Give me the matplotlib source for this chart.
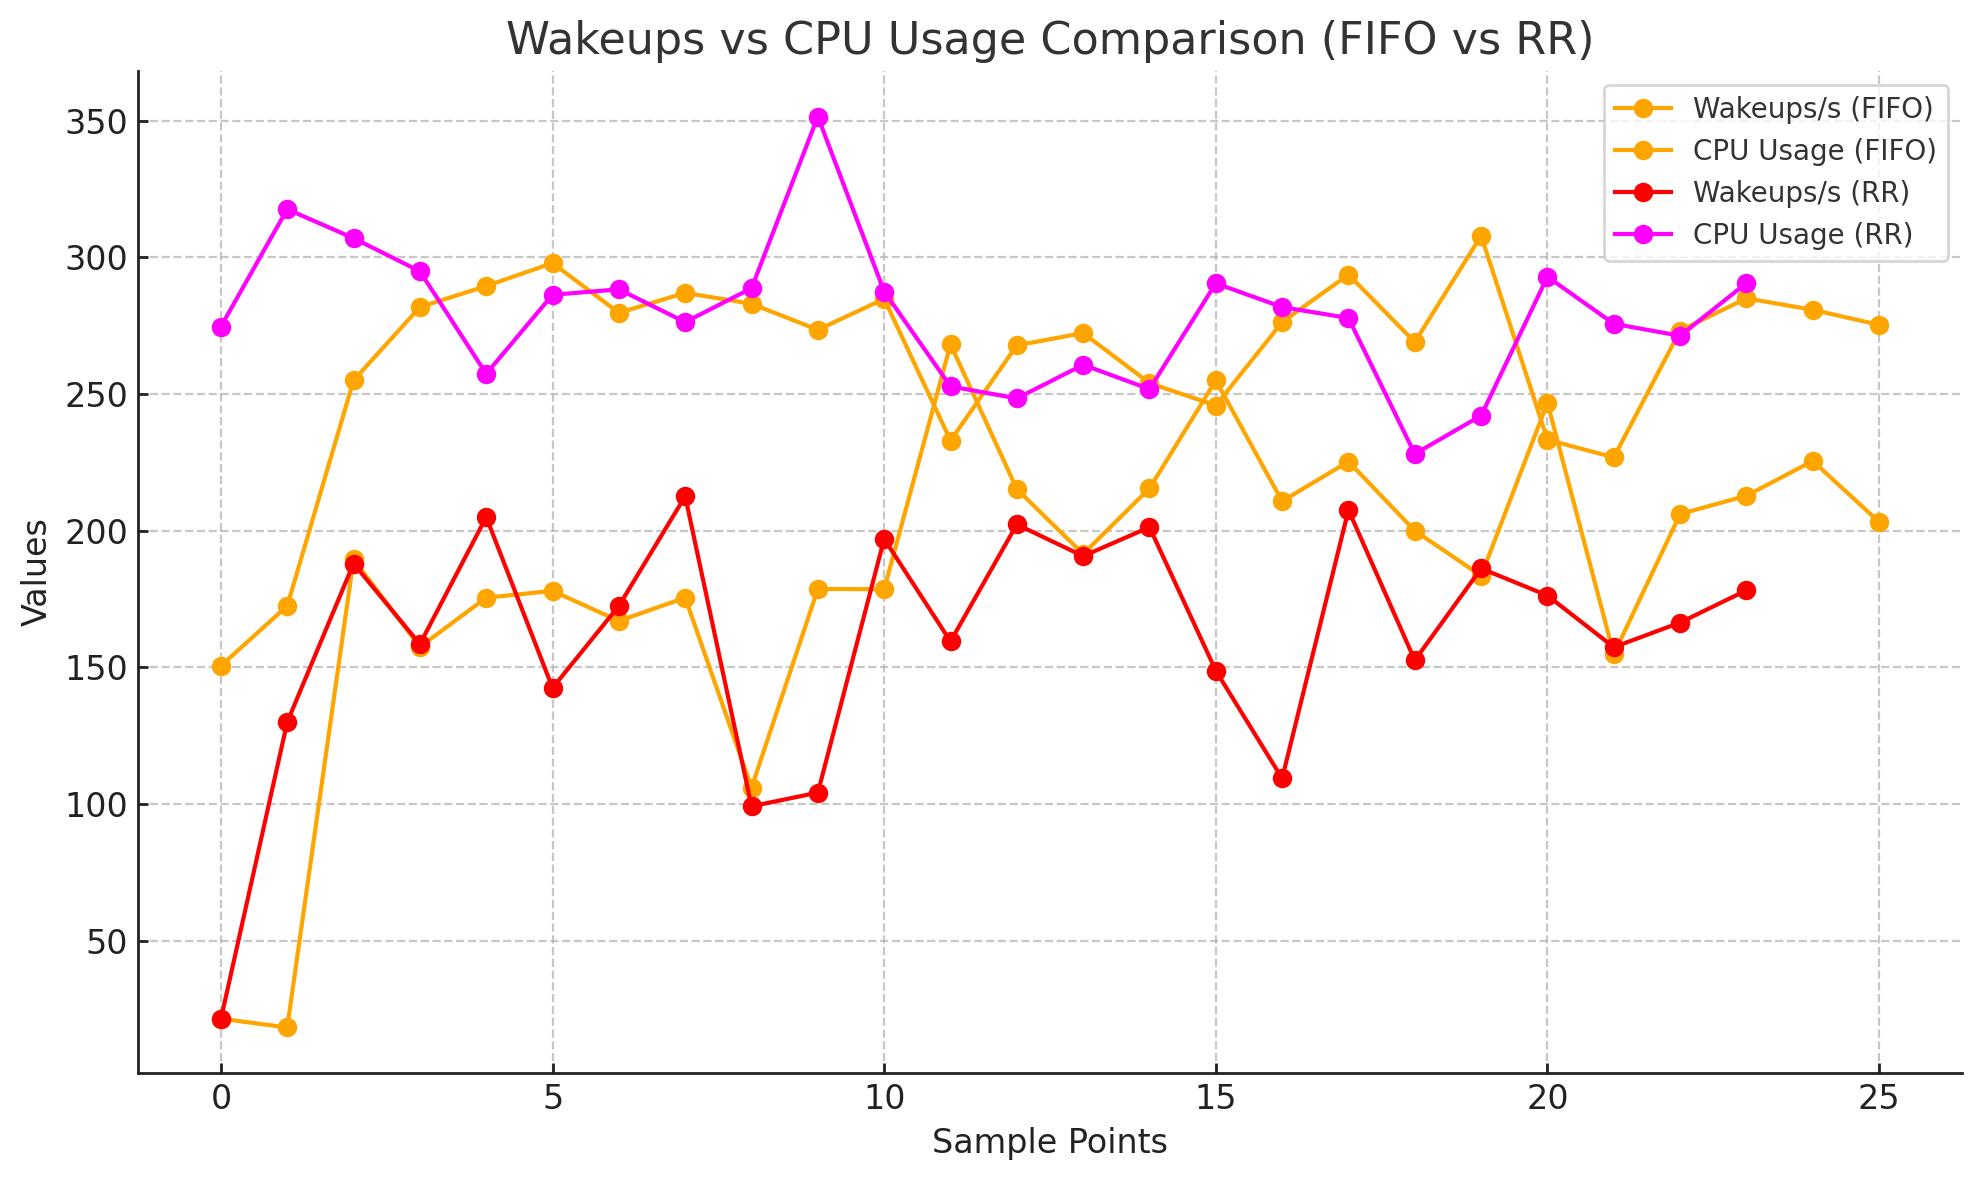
import matplotlib
matplotlib.use("Agg")
import matplotlib.pyplot as plt

x_fifo = list(range(26))
x_rr = list(range(24))

wakeups_fifo = [21.5, 18.3, 189.5, 157.5, 175.5, 178.0, 167.0, 175.5, 106.0, 178.7,
                178.6, 268.2, 215.2, 191.5, 215.5, 255.0, 210.8, 225.3, 200.0, 183.5,
                246.8, 154.8, 206.1, 212.8, 225.5, 203.2]
cpu_fifo = [150.6, 172.5, 255.0, 281.8, 289.5, 297.9, 279.7, 287.0, 283.0, 273.5,
            284.8, 233.0, 267.8, 272.3, 254.0, 245.8, 276.3, 293.7, 269.0, 307.9,
            233.3, 226.8, 273.2, 285.0, 280.8, 275.3]
wakeups_rr = [21.4, 130.0, 188.0, 158.5, 205.0, 142.5, 172.5, 212.6, 99.2, 104.2,
              197.0, 159.5, 202.3, 190.7, 201.3, 148.8, 109.4, 207.6, 152.6, 186.2,
              176.3, 157.4, 166.4, 178.2]
cpu_rr = [274.7, 317.6, 307.0, 294.9, 257.4, 286.3, 288.3, 276.3, 288.7, 351.5,
          287.5, 252.8, 248.4, 260.7, 251.8, 290.5, 281.8, 277.8, 228.1, 242.1,
          292.9, 275.7, 271.3, 290.6]

labels = ["Wakeups/s (FIFO)", "CPU Usage (FIFO)", "Wakeups/s (RR)", "CPU Usage (RR)"]
colors = ["orange", "orange", "red", "magenta"]

fig = plt.figure(figsize=(1979 / 200, 1180 / 200), dpi=200)
ax = fig.add_axes([138 / 1979, 1 - 1073 / 1180, (1962 - 138) / 1979, (1073 - 71) / 1180])

series = [(x_fifo, wakeups_fifo), (x_fifo, cpu_fifo), (x_rr, wakeups_rr), (x_rr, cpu_rr)]
for (xs, ys), lab, col in zip(series, labels, colors):
    ax.plot(xs, ys, marker="o", color=col, label=lab, linewidth=1.5, markersize=6)

ax.set_title("Wakeups vs CPU Usage Comparison (FIFO vs RR)", fontsize=16, color="#333333")
ax.set_xlabel("Sample Points", fontsize=12, color="#222222")
ax.set_ylabel("Values", fontsize=12, color="#222222")

ax.grid(True, linestyle="--", color="#b0b0b0", alpha=0.7, linewidth=0.8)
ax.set_axisbelow(True)

for s in ["top", "right"]:
    ax.spines[s].set_visible(False)
for s in ["left", "bottom"]:
    ax.spines[s].set_color("#222222")
    ax.spines[s].set_linewidth(1.0)

ax.tick_params(axis="both", direction="in", labelsize=12, colors="#222222",
               length=3.5, width=1.0, labelcolor="#222222")

leg = ax.legend(loc="upper right", fontsize=10, frameon=True)
leg.get_frame().set_edgecolor("#cccccc")
for t in leg.get_texts():
    t.set_color("#333333")

fig.savefig("out.png", dpi=200)
